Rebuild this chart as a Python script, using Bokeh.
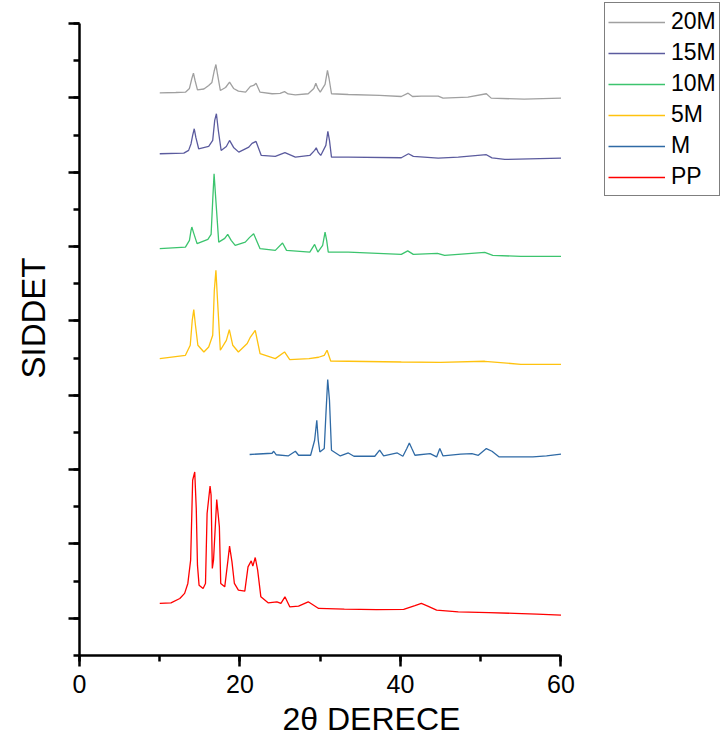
from bokeh.plotting import figure
from bokeh.models import (Range1d, SingleIntervalTicker, Legend, LegendItem, Title,
                          CustomJSTickFormatter)
from bokeh.embed import file_html
from bokeh.resources import INLINE

# ---- data (2theta in degrees, intensity in a.u., stacked with offsets) ----
x_20m = [10.0, 12.0, 13.2, 13.7, 14.0, 14.2, 14.4, 14.7, 15.5, 16.1, 16.5, 16.8, 17.0, 17.2,
         17.55, 18.2, 18.7, 19.2, 19.8, 20.7, 21.3, 21.7, 22.0, 22.5, 24.0, 25.0, 25.55, 26.0,
         26.9, 28.5, 29.2, 29.45, 29.7, 30.0, 30.6, 30.9, 31.1, 31.4, 33.5, 37.4, 40.1, 40.95,
         41.5, 42.6, 44.7, 45.3, 48.4, 50.7, 51.3, 55.4, 60.0]
y_20m = [7068, 7072, 7076, 7126, 7260, 7332, 7233, 7108, 7119, 7166, 7207, 7368, 7448, 7314,
         7099, 7139, 7211, 7126, 7090, 7076, 7153, 7166, 7197, 7076, 7055, 7059, 7083, 7052,
         7041, 7055, 7126, 7197, 7126, 7076, 7180, 7368, 7260, 7055, 7045, 7032, 7018, 7063,
         7018, 7022, 7022, 6996, 7009, 7055, 6996, 6982, 6996]

x_15m = [10.0, 13.0, 13.6, 13.9, 14.1, 14.3, 14.5, 14.85, 16.1, 16.6, 16.85, 17.06, 17.3, 17.65,
         18.3, 18.7, 19.2, 19.85, 21.1, 21.5, 22.0, 22.65, 24.4, 25.6, 26.9, 28.7, 29.3, 29.5,
         29.75, 30.06, 30.7, 30.95, 31.15, 31.4, 33.5, 40.1, 41.0, 41.6, 44.7, 47.2, 50.7, 51.4,
         53.0, 60.0]
y_15m = [6248, 6256, 6293, 6383, 6494, 6584, 6467, 6315, 6346, 6427, 6696, 6786, 6561, 6293,
         6346, 6427, 6333, 6270, 6337, 6387, 6414, 6225, 6212, 6262, 6203, 6225, 6293, 6329,
         6266, 6225, 6360, 6548, 6427, 6203, 6203, 6194, 6248, 6212, 6189, 6203, 6235, 6192,
         6172, 6189]

x_10m = [10.0, 13.2, 13.7, 13.9, 14.0, 14.2, 14.65, 16.0, 16.4, 16.6, 16.77, 16.95, 17.35, 18.1,
         18.47, 18.9, 19.4, 20.66, 21.2, 21.7, 22.5, 24.4, 25.3, 25.8, 28.7, 29.3, 29.7, 30.3,
         30.6, 30.8, 31.0, 33.5, 40.1, 40.9, 41.6, 44.6, 45.5, 50.5, 51.5, 55.0, 60.0]
y_10m = [4971, 4993, 5083, 5217, 5262, 5191, 5039, 5096, 5164, 5621, 5979, 5688, 5060, 5110,
         5164, 5083, 5016, 5060, 5123, 5173, 4971, 4949, 5047, 4949, 4926, 5029, 4926, 5016,
         5195, 5083, 4926, 4926, 4895, 4942, 4895, 4908, 4881, 4922, 4881, 4868, 4868]

x_5m = [10.0, 13.2, 13.8, 14.05, 14.24, 14.45, 14.75, 15.5, 16.1, 16.6, 16.8, 17.0, 17.2, 17.55,
        18.3, 18.67, 19.1, 19.8, 20.9, 21.3, 21.9, 22.5, 24.4, 25.55, 26.2, 28.6, 29.8, 30.5,
        30.85, 31.3, 40.1, 45.0, 50.5, 55.0, 60.0]
y_5m = [3493, 3537, 3672, 4008, 4152, 3941, 3672, 3582, 3649, 3806, 4411, 4680, 4277, 3605,
        3739, 3883, 3672, 3582, 3695, 3783, 3873, 3560, 3493, 3582, 3480, 3493, 3511, 3537,
        3605, 3461, 3447, 3443, 3457, 3416, 3416]

x_m = [21.2, 24.0, 24.2, 24.5, 26.0, 26.9, 27.3, 28.8, 29.3, 29.57, 29.75, 29.95, 30.5, 30.7,
       30.93, 31.15, 31.4, 32.5, 33.5, 34.2, 36.8, 37.4, 37.9, 39.6, 40.3, 40.8, 41.1, 41.4,
       41.8, 43.7, 44.5, 44.9, 45.3, 47.5, 48.9, 49.7, 50.7, 51.4, 52.3, 56.5, 58.2, 60.0]
y_m = [2203, 2220, 2247, 2200, 2184, 2247, 2193, 2193, 2395, 2664, 2395, 2238, 2283, 2731,
       3211, 2933, 2261, 2184, 2224, 2180, 2180, 2261, 2184, 2224, 2180, 2287, 2359, 2287,
       2193, 2216, 2171, 2283, 2184, 2207, 2216, 2193, 2283, 2247, 2171, 2171, 2184, 2207]

x_pp = [10.0, 11.4, 12.5, 13.1, 13.5, 13.85, 13.95, 14.1, 14.36, 14.55, 14.7, 14.9, 15.4, 15.7,
        15.9, 16.27, 16.4, 16.55, 16.7, 17.1, 17.43, 17.6, 18.1, 18.5, 18.7, 19.0, 19.3, 19.8,
        20.6, 21.0, 21.4, 21.6, 21.9, 22.2, 22.6, 23.5, 24.6, 25.1, 25.6, 26.2, 27.3, 28.5,
        29.8, 33.0, 37.0, 40.4, 41.8, 42.6, 43.4, 44.5, 47.2, 51.0, 54.2, 57.0, 60.0]
y_pp = [200, 208, 267, 335, 469, 782, 1208, 1857, 1969, 1477, 715, 446, 402, 469,
        1410, 1777, 1656, 671, 782, 1598, 1230, 469, 423, 782, 970, 759, 469, 379,
        366, 692, 773, 702, 818, 648, 289, 208, 222, 200, 289, 155, 164, 222,
        133, 124, 117, 120, 170, 200, 165, 110, 87, 77, 66, 56, 43]

series = [
    ("20M", x_20m, y_20m, "#a0a0a0"),
    ("15M", x_15m, y_15m, "#5b5b9e"),
    ("10M", x_10m, y_10m, "#3cc46e"),
    ("5M", x_5m, y_5m, "#ffc20e"),
    ("M", x_m, y_m, "#2f6aa5"),
    ("PP", x_pp, y_pp, "#ff0000"),
]

X_MIN, X_MAX = 0, 60
Y_MIN, Y_MAX = -500, 8000

FONT = "Liberation Sans"

# frame extends right/up beyond the axes so the legend can sit there;
# the axes themselves are limited with bounds
p = figure(width=725, height=747, output_backend="svg", toolbar_location=None,
           x_range=Range1d(0, 80.5), y_range=Range1d(-500, 8309),
           min_border_left=77, min_border_right=0, min_border_top=0, min_border_bottom=92)
p.outline_line_color = None
p.xgrid.visible = False
p.ygrid.visible = False

for ax in (p.xaxis[0], p.yaxis[0]):
    ax.axis_line_width = 2.5
    ax.axis_line_color = "black"
    ax.major_tick_line_width = 2.5
    ax.minor_tick_line_width = 2.5
    ax.major_tick_line_color = "black"
    ax.minor_tick_line_color = "black"
    ax.major_tick_in = 0
    ax.minor_tick_in = 0
    ax.major_tick_out = 11
    ax.minor_tick_out = 6

p.xaxis.bounds = (X_MIN, X_MAX)
p.yaxis.bounds = (Y_MIN, Y_MAX)
p.xaxis.ticker = SingleIntervalTicker(interval=20, num_minor_ticks=2)
p.yaxis.ticker = SingleIntervalTicker(interval=1000, num_minor_ticks=2)
p.xaxis.major_label_text_font = FONT
p.xaxis.major_label_text_font_size = "25px"
p.xaxis.major_label_text_color = "black"
p.xaxis.major_label_standoff = 8
p.yaxis.formatter = CustomJSTickFormatter(code="return ''")
p.yaxis.major_label_standoff = 0

items = []
for name, xs, ys, col in series:
    r = p.line(xs, ys, line_color=col, line_width=1.3)
    items.append(LegendItem(label=name, renderers=[r]))

legend = Legend(items=items, location=(525, 459), orientation="vertical",
                label_text_font=FONT, label_text_font_size="23px", label_text_color="black",
                glyph_width=57, glyph_height=20, label_height=31, label_standoff=6,
                spacing=0, padding=3, margin=0,
                border_line_color="black", border_line_width=1.5,
                background_fill_color="white")
p.add_layout(legend, "center")

p.add_layout(Title(text="2θ DERECE", align="left", offset=203, text_font=FONT,
                   text_font_size="32px", text_font_style="normal", text_color="black",
                   standoff=7), "below")
p.add_layout(Title(text="SIDDET", align="left", offset=277, text_font=FONT,
                   text_font_size="33px", text_font_style="normal", text_color="black",
                   vertical_align="top", standoff=29), "left")

open("out.html", "w").write(file_html(p, INLINE))
